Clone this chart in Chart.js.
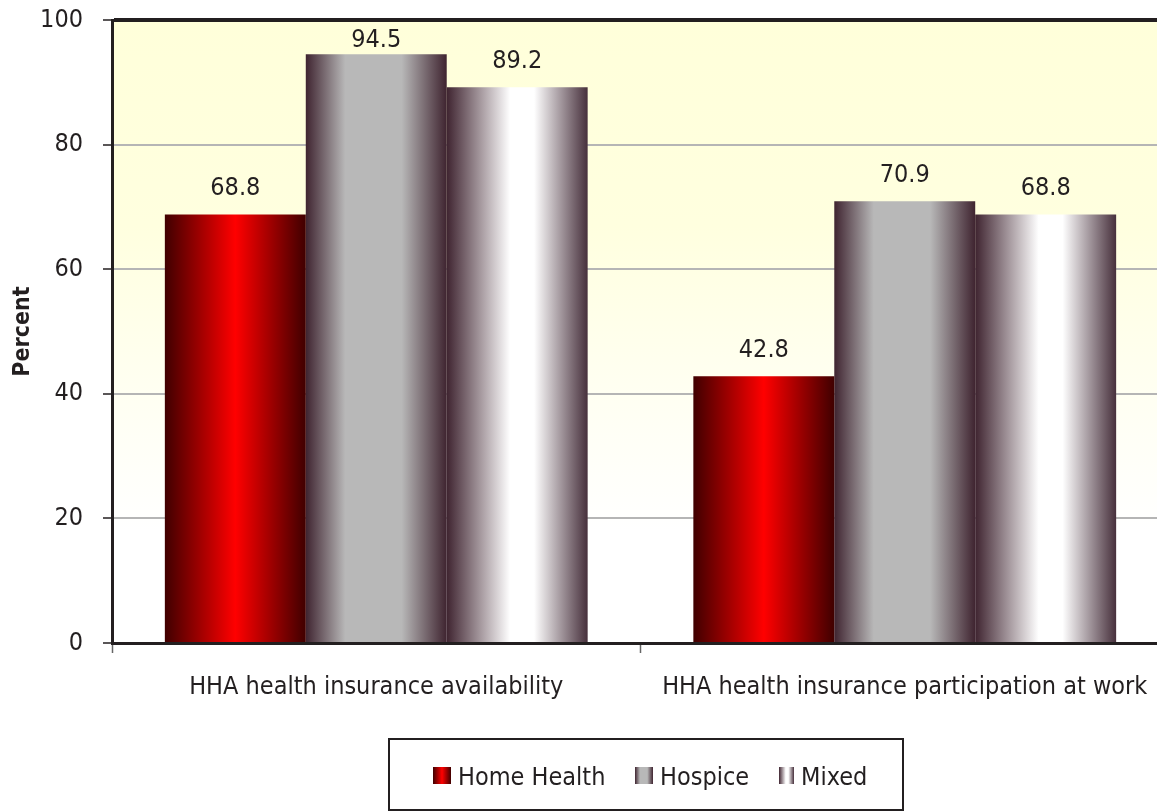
<!DOCTYPE html>
<html>
<head>
<meta charset="utf-8">
<script src="https://cdn.jsdelivr.net/npm/chart.js@4"></script>
<style>
  body { margin: 0; background: #fff; overflow: hidden; }
</style>
</head>
<body>
<canvas id="chart" width="1172" height="812"></canvas>
<script>
// data
const categories = ['HHA health insurance availability', 'HHA health insurance participation at work'];
const seriesNames = ['Home Health', 'Hospice', 'Mixed'];
const homeHealth = [68.8, 42.8];
const hospice = [94.5, 70.9];
const mixed = [89.2, 68.8];
const yTicks = [0, 20, 40, 60, 80, 100];

const FONT = "'Liberation Sans Narrow', 'DejaVu Sans Condensed', sans-serif";
const INK = '#231f20';

// horizontal gradient stops for each series
const gradStops = [
  [[0, '#400000'], [0.5, '#ff0000'], [1, '#400000']],
  [[0, '#3f2430'], [0.28, '#b8b8b8'], [0.68, '#b8b8b8'], [1, '#3f2430']],
  [[0, '#3f2430'], [0.45, '#ffffff'], [0.62, '#ffffff'], [1, '#47303c']]
];

function makeGrad(ctx2d, x0, x1, stops) {
  const g = ctx2d.createLinearGradient(x0, 0, x1, 0);
  stops.forEach(s => g.addColorStop(s[0], s[1]));
  return g;
}

// bar fill: work out the bar's left/right from the x scale
function barFill(ctx) {
  const chart = ctx.chart;
  const xs = chart.scales.x;
  const i = ctx.datasetIndex;
  const plain = gradStops[i][1][1];
  if (!xs || ctx.dataIndex === undefined) return plain;
  const catW = xs.width / chart.data.labels.length;
  const barW = catW * 0.8 / chart.data.datasets.length;
  const center = xs.getPixelForValue(ctx.dataIndex);
  const left = center - catW * 0.4 + i * barW;
  if (!isFinite(left) || !isFinite(barW) || barW <= 0) return plain;
  return makeGrad(chart.ctx, left, left + barW, gradStops[i]);
}

const plotBg = {
  id: 'plotBg',
  beforeDraw(chart) {
    const a = chart.chartArea, c = chart.ctx;
    const g = c.createLinearGradient(0, a.top, 0, a.bottom);
    g.addColorStop(0, '#ffffda');
    g.addColorStop(0.33, '#ffffdf');
    g.addColorStop(0.6, '#fffff2');
    g.addColorStop(0.82, '#ffffff');
    g.addColorStop(1, '#ffffff');
    c.save();
    c.fillStyle = g;
    c.fillRect(a.left, a.top, a.right - a.left, a.bottom - a.top);
    c.restore();
  }
};

// value above each bar, pushed down when it would hit the top border
const valueLabels = {
  id: 'valueLabels',
  afterDatasetsDraw(chart) {
    const c = chart.ctx;
    const top = chart.chartArea.top;
    c.save();
    c.font = '25px ' + FONT;
    c.fillStyle = INK;
    c.textAlign = 'center';
    c.textBaseline = 'alphabetic';
    chart.data.datasets.forEach((ds, di) => {
      chart.getDatasetMeta(di).data.forEach((el, j) => {
        const y = Math.max(el.y - 19, top + 27);
        c.fillText(ds.data[j].toFixed(1), el.x, y);
      });
    });
    c.restore();
  }
};

const boxLegend = {
  id: 'boxLegend',
  afterDraw(chart) {
    const c = chart.ctx;
    c.save();
    c.strokeStyle = INK;
    c.lineWidth = 2;
    c.strokeRect(389, 739, 514, 71);
    const starts = [433, 635, 779];
    const widths = [18, 18, 15];
    c.font = '25px ' + FONT;
    c.textBaseline = 'alphabetic';
    c.textAlign = 'left';
    seriesNames.forEach((name, i) => {
      const x = starts[i];
      c.fillStyle = makeGrad(c, x, x + widths[i], gradStops[i]);
      c.fillRect(x, 767, widths[i], 17);
      c.fillStyle = INK;
      c.fillText(name, x + widths[i] + 7, 785);
    });
    c.restore();
  }
};

new Chart(document.getElementById('chart'), {
  type: 'bar',
  data: {
    labels: categories,
    datasets: [
      { label: seriesNames[0], data: homeHealth },
      { label: seriesNames[1], data: hospice },
      { label: seriesNames[2], data: mixed }
    ].map(d => Object.assign(d, {
      backgroundColor: barFill,
      borderWidth: 0,
      categoryPercentage: 0.8,
      barPercentage: 1
    }))
  },
  options: {
    responsive: false,
    animation: false,
    layout: { padding: { top: 20, right: 3, left: 0, bottom: 0 } },
    plugins: {
      legend: { display: false },
      tooltip: { enabled: false }
    },
    scales: {
      x: {
        afterFit: s => { s.height = 169; s.paddingLeft = 0; s.paddingRight = 0; },
        grid: {
          display: true,
          offset: true,
          drawOnChartArea: false,
          drawTicks: true,
          tickLength: 10,
          tickColor: '#666',
          tickWidth: 1.5
        },
        border: { display: true, color: INK, width: 3 },
        ticks: {
          color: INK,
          font: { family: FONT, size: 25 },
          padding: 19,
          maxRotation: 0
        }
      },
      y: {
        min: 0,
        max: 100,
        afterFit: s => { s.width = 112; s.paddingTop = 0; s.paddingBottom = 0; },
        afterBuildTicks: s => { s.ticks = yTicks.map(v => ({ value: v })); },
        grid: {
          color: ctx => ctx.tick && ctx.tick.value === 100 ? INK : '#b5b5b5',
          lineWidth: ctx => ctx.tick && ctx.tick.value === 100 ? 4 : 2,
          drawTicks: true,
          tickLength: 9,
          tickColor: INK,
          tickWidth: 1.5
        },
        border: { display: true, color: INK, width: 3 },
        ticks: {
          color: INK,
          font: { family: FONT, size: 25 },
          padding: 20
        },
        title: {
          display: true,
          text: 'Percent',
          color: INK,
          font: { family: FONT, size: 23, weight: 'bold' },
          padding: { top: 9, bottom: 0 }
        }
      }
    }
  },
  plugins: [plotBg, valueLabels, boxLegend]
});
</script>
</body>
</html>
